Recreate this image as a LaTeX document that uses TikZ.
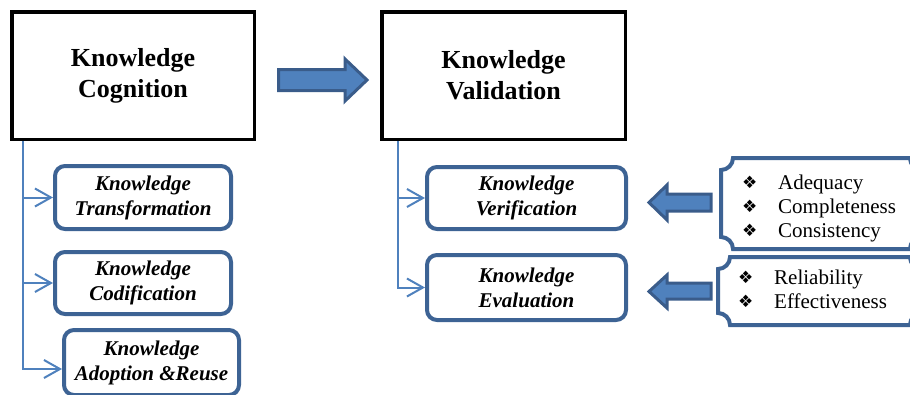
\documentclass[tikz,border=0pt]{standalone}
\usepackage{fontspec}
\setmainfont{Liberation Serif}
\newfontfamily\djv{DejaVu Sans}
\usetikzlibrary{arrows.meta}
\definecolor{connc}{HTML}{4F81BD}
\definecolor{boxb}{HTML}{3D6394}
\definecolor{arrf}{HTML}{4F81BD}
\definecolor{arrd}{HTML}{3A5C8A}
\newcommand\plbul{\raisebox{1pt}{\djv\fontsize{17}{17}\selectfont ❖}}
\begin{document}
\begin{tikzpicture}[x=1pt,y=-1pt,
 bigbox/.style={draw=black, line width=3.5pt, fill=white, inner sep=0pt, align=center, font=\fontsize{26}{31}\selectfont\bfseries},
 subbox/.style={draw=boxb, line width=4pt, rounded corners=10pt, fill=white, inner sep=0pt, align=center, font=\fontsize{21}{25}\selectfont\bfseries\itshape},
 link/.style={draw=connc, line width=2pt, -{Straight Barb[length=16pt,width=18pt,line width=2pt]}},
 blockarrow/.style={fill=arrf, draw=arrd, line width=3pt, line join=miter},
 plaque/.style={draw=boxb, line width=4pt, fill=white},
 listtext/.style={font=\fontsize{21}{24}\selectfont, align=left, anchor=west, inner sep=0pt}]
\useasboundingbox (0,0) rectangle (910,394);
\clip (0,0) rectangle (910,394);

% main boxes
\node[bigbox, minimum width=242.5pt, minimum height=127.5pt] (KC) at (133,75.5) {Knowledge\\Cognition};
\node[bigbox, minimum width=243.5pt, minimum height=127.5pt] (KV) at (503.5,75.5) {Knowledge\\Validation};

% block arrow between main boxes
\draw[blockarrow] (278.5,69.5) -- (345,69.5) -- (345,59) -- (367,80) -- (345,101) -- (345,90.5) -- (278.5,90.5) -- cycle;

% sub boxes left
\node[subbox, minimum width=176pt, minimum height=63pt] (KT) at (143,197.5) {Knowledge\\Transformation};
\node[subbox, minimum width=176pt, minimum height=62pt] (KCo) at (143,283) {Knowledge\\Codification};
\node[subbox, minimum width=175pt, minimum height=65pt] (KA) at (151.5,362.5) {Knowledge\\Adoption \&Reuse};

% sub boxes right
\node[subbox, minimum width=199pt, minimum height=62pt] (KVe) at (526.5,198) {Knowledge\\Verification};
\node[subbox, minimum width=199pt, minimum height=65pt] (KE) at (526.5,287.5) {Knowledge\\Evaluation};

% connectors
\coordinate (sp1) at (23,141);
\coordinate (sp2) at (398,141);
\draw[link] (sp1) |- (KT);
\draw[link] (sp1) |- (KCo);
\draw[link] (sp1) |- ([yshift=-6.5pt]KA.west);
\draw[link] (sp2) |- (KVe);
\draw[link] (sp2) |- (KE);

% plaques
\draw[plaque] (733,158) -- (910,158) .. controls (910,164.6) and (915.4,170) .. (922,170)
 -- (922,237) .. controls (915.4,237) and (910,242.4) .. (910,249)
 -- (733,249) .. controls (733,242.4) and (727.6,237) .. (721,237)
 -- (721,170) .. controls (727.6,170) and (733,164.6) .. (733,158) -- cycle;
\draw[plaque] (730,257) -- (910,257) .. controls (910,263.6) and (915.4,269) .. (922,269)
 -- (922,313) .. controls (915.4,313) and (910,318.4) .. (910,325)
 -- (730,325) .. controls (730,318.4) and (724.6,313) .. (718,313)
 -- (718,269) .. controls (724.6,269) and (730,263.6) .. (730,257) -- cycle;

\node[listtext] (L1) at (742,208) {\makebox[36pt][l]{\plbul}Adequacy\\\makebox[36pt][l]{\plbul}Completeness\\\makebox[36pt][l]{\plbul}Consistency};
\node[listtext] (L2) at (738,289.5) {\makebox[36pt][l]{\plbul}Reliability\\\makebox[36pt][l]{\plbul}Effectiveness};

% left block arrows
\draw[blockarrow] (711,194) -- (667,194) -- (667,185) -- (649,202.5) -- (667,220) -- (667,211) -- (711,211) -- cycle;
\draw[blockarrow] (711,283) -- (667,283) -- (667,275) -- (649,291.5) -- (667,308) -- (667,299) -- (711,299) -- cycle;
\end{tikzpicture}
\end{document}
